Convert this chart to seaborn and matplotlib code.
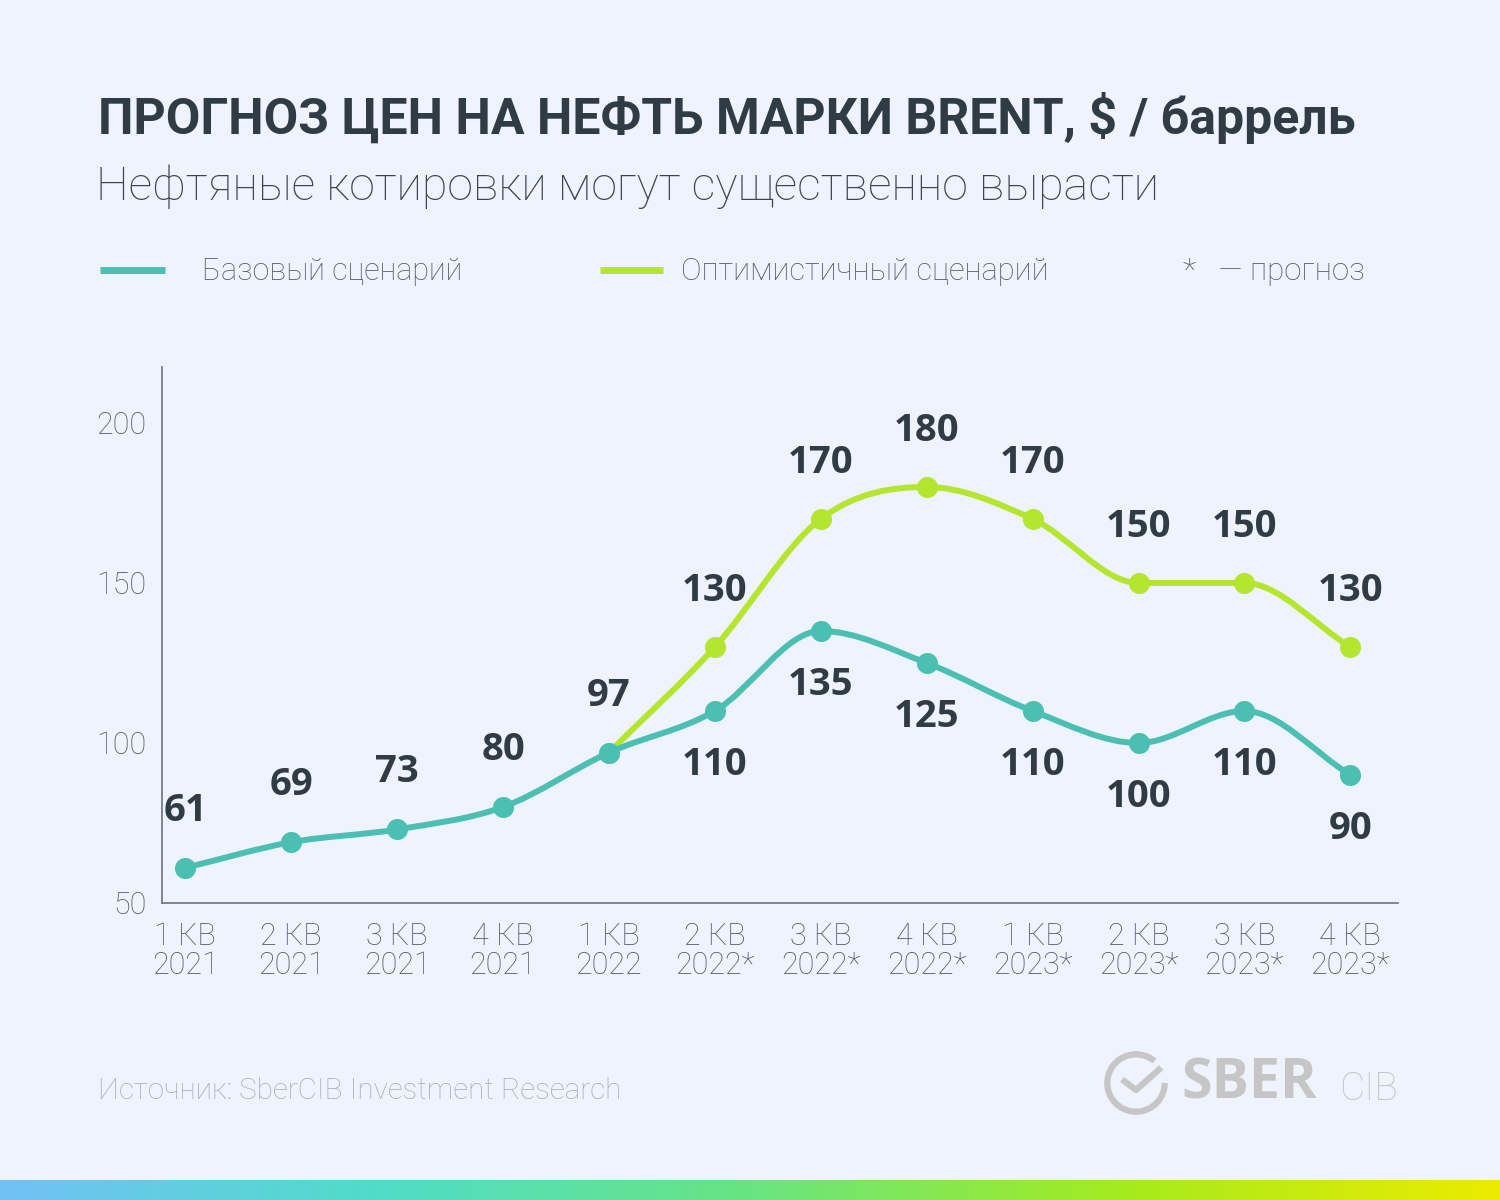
import numpy as np
import pandas as pd
import seaborn as sns
import matplotlib.pyplot as plt
from matplotlib.path import Path
from matplotlib.patches import PathPatch, Arc
from matplotlib.lines import Line2D
from matplotlib.colors import LinearSegmentedColormap

# -------- DATA --------
quarters = ['1 КВ\n2021', '2 КВ\n2021', '3 КВ\n2021', '4 КВ\n2021', '1 КВ\n2022', '2 КВ\n2022*',
            '3 КВ\n2022*', '4 КВ\n2022*', '1 КВ\n2023*', '2 КВ\n2023*', '3 КВ\n2023*', '4 КВ\n2023*']
base_values = [61, 69, 73, 80, 97, 110, 135, 125, 110, 100, 110, 90]
optimistic_values = [97, 130, 170, 180, 170, 150, 150, 130]
optimistic_start = 4
base_label_side = ['up', 'up', 'up', 'up', 'up', 'down', 'down', 'down', 'down', 'down', 'down', 'down']
y_ticks = [50, 100, 150, 200]

# -------- STYLE --------
BG = '#eef3fe'
TEAL = '#4cbfb3'
LIME = '#b4e62f'
DARK = '#2f3b45'
GREY = '#505b66'
LIGHT = '#a8afb8'

sns.set_style('white')
plt.rcParams['font.family'] = ['Roboto', 'DejaVu Sans']

fig = plt.figure(figsize=(15, 12), dpi=100, facecolor=BG)
ax = fig.add_axes([0.108, 0.2475, 0.824, 0.4467], facecolor=BG)

df_base = pd.DataFrame({'x': np.arange(len(base_values)), 'y': base_values})
df_opt = pd.DataFrame({'x': np.arange(optimistic_start, optimistic_start + len(optimistic_values)),
                       'y': optimistic_values})


def smooth_path(xs, ys):
    # monotone cubic (Fritsch-Carlson) through the points, as bezier segments
    x = np.asarray(xs, dtype=float)
    y = np.asarray(ys, dtype=float)
    h = np.diff(x)
    d = np.diff(y) / h
    n = len(x)
    m = np.zeros(n)
    m[0], m[-1] = d[0], d[-1]
    for k in range(1, n - 1):
        if d[k - 1] * d[k] > 0:
            m[k] = (d[k - 1] + d[k]) / 2
    for k in range(n - 1):
        if d[k] == 0:
            m[k] = m[k + 1] = 0
            continue
        a, b = m[k] / d[k], m[k + 1] / d[k]
        s = a * a + b * b
        if s > 9:
            t = 3 / np.sqrt(s)
            m[k], m[k + 1] = t * a * d[k], t * b * d[k]
    verts = [(x[0], y[0])]
    codes = [Path.MOVETO]
    for k in range(n - 1):
        verts += [(x[k] + h[k] / 3, y[k] + m[k] * h[k] / 3),
                  (x[k + 1] - h[k] / 3, y[k + 1] - m[k + 1] * h[k] / 3),
                  (x[k + 1], y[k + 1])]
        codes += [Path.CURVE4] * 3
    return Path(verts, codes)


ax.add_patch(PathPatch(smooth_path(df_opt.x, df_opt.y), fill=False, edgecolor=LIME, lw=4.3,
                       capstyle='round', zorder=2))
ax.add_patch(PathPatch(smooth_path(df_base.x, df_base.y), fill=False, edgecolor=TEAL, lw=4.3,
                       capstyle='round', zorder=4))
sns.scatterplot(data=df_opt, x='x', y='y', color=LIME, s=230, linewidth=0, ax=ax, zorder=3)
sns.scatterplot(data=df_base, x='x', y='y', color=TEAL, s=230, linewidth=0, ax=ax, zorder=5)

# -------- DATA LABELS --------
for x, y, side in zip(df_base.x, df_base.y, base_label_side):
    off = 41 if side == 'up' else -39
    ax.annotate(str(y), (x, y), xytext=(0, off), textcoords='offset points', ha='center', va='center',
                fontsize=27.5, fontweight='bold', color=DARK, family=['Open Sans', 'DejaVu Sans'])
for x, y in zip(df_opt.x[1:], df_opt.y[1:]):
    ax.annotate(str(y), (x, y), xytext=(0, 40), textcoords='offset points', ha='center', va='center',
                fontsize=27.5, fontweight='bold', color=DARK, family=['Open Sans', 'DejaVu Sans'])

# -------- AXES --------
ax.set_xlim(-0.22, 11.45)
ax.set_ylim(50, 217.5)
ax.set_xticks(range(len(quarters)))
ax.set_xticklabels(quarters, fontsize=22, color=GREY, linespacing=1.0, fontweight='light')
ax.set_yticks(y_ticks)
ax.set_yticklabels([str(t) for t in y_ticks], fontsize=22, color=GREY, fontweight='light')
ax.tick_params(axis='both', length=0)
ax.tick_params(axis='x', pad=14)
ax.tick_params(axis='y', pad=11)
ax.set_xlabel('')
ax.set_ylabel('')
for side in ['top', 'right']:
    ax.spines[side].set_visible(False)
for side in ['left', 'bottom']:
    ax.spines[side].set_color('#6b747d')
    ax.spines[side].set_linewidth(1.2)

# -------- TITLES --------
fig.text(98 / 1500, 1 - 118 / 1200, 'ПРОГНОЗ ЦЕН НА НЕФТЬ МАРКИ BRENT, $ / баррель', fontsize=36,
         fontweight='bold', color=DARK, va='center', ha='left')
fig.text(96 / 1500, 1 - 187 / 1200, 'Нефтяные котировки могут существенно вырасти', fontsize=33.5,
         fontweight='light', color='#3a4550', va='center', ha='left')

# -------- LEGEND --------
fig.add_artist(Line2D([100 / 1500, 165 / 1500], [1 - 270 / 1200] * 2, color=TEAL, lw=5, solid_capstyle='butt'))
fig.text(202 / 1500, 1 - 272 / 1200, 'Базовый сценарий', fontsize=22, fontweight='light', color=GREY,
         va='center', ha='left')
fig.add_artist(Line2D([600 / 1500, 663 / 1500], [1 - 270 / 1200] * 2, color=LIME, lw=5, solid_capstyle='butt'))
fig.text(681 / 1500, 1 - 272 / 1200, 'Оптимистичный сценарий', fontsize=22.2, fontweight='light', color=GREY,
         va='center', ha='left')
fig.text(1183 / 1500, 1 - 272 / 1200, '*   — прогноз', fontsize=22.5, fontweight='light', color=GREY,
         va='center', ha='left')

# -------- SOURCE & LOGO --------
fig.text(98 / 1500, 1 - 1091 / 1200, 'Источник: SberCIB Investment Research', fontsize=21.3,
         fontweight='light', color=LIGHT, va='center', ha='left')
logo_ax = fig.add_axes([1101 / 1500, 1 - 1118 / 1200, 70 / 1500, 70 / 1200])
logo_ax.set_xlim(0, 1)
logo_ax.set_ylim(0, 1)
logo_ax.axis('off')
logo_ax.add_patch(Arc((0.5, 0.5), 0.82, 0.82, theta1=50, theta2=360, lw=4.5, color='#c6c6c6'))
logo_ax.plot([0.3, 0.5, 0.86], [0.55, 0.4, 0.72], color='#c6c6c6', lw=4.5, solid_capstyle='butt')
fig.text(1181 / 1500, 1 - 1084 / 1200, 'SBER', fontsize=40, fontweight='bold', color='#c6c6c6',
         va='center', ha='left', family=['Open Sans', 'DejaVu Sans'])
fig.text(1339 / 1500, 1 - 1089 / 1200, 'CIB', fontsize=28, fontweight='light', color='#c6c6c6',
         va='center', ha='left')

# -------- GRADIENT STRIP --------
grad_ax = fig.add_axes([0, 0, 1, 20 / 1200])
cmap = LinearSegmentedColormap.from_list('strip', ['#72c1f6', '#50dcc9', '#68e482', '#a5eb1e', '#ecea00'])
grad_ax.imshow(np.linspace(0, 1, 512)[None, :], aspect='auto', cmap=cmap)
grad_ax.axis('off')

fig.savefig('out.png', dpi=100, facecolor=BG)
